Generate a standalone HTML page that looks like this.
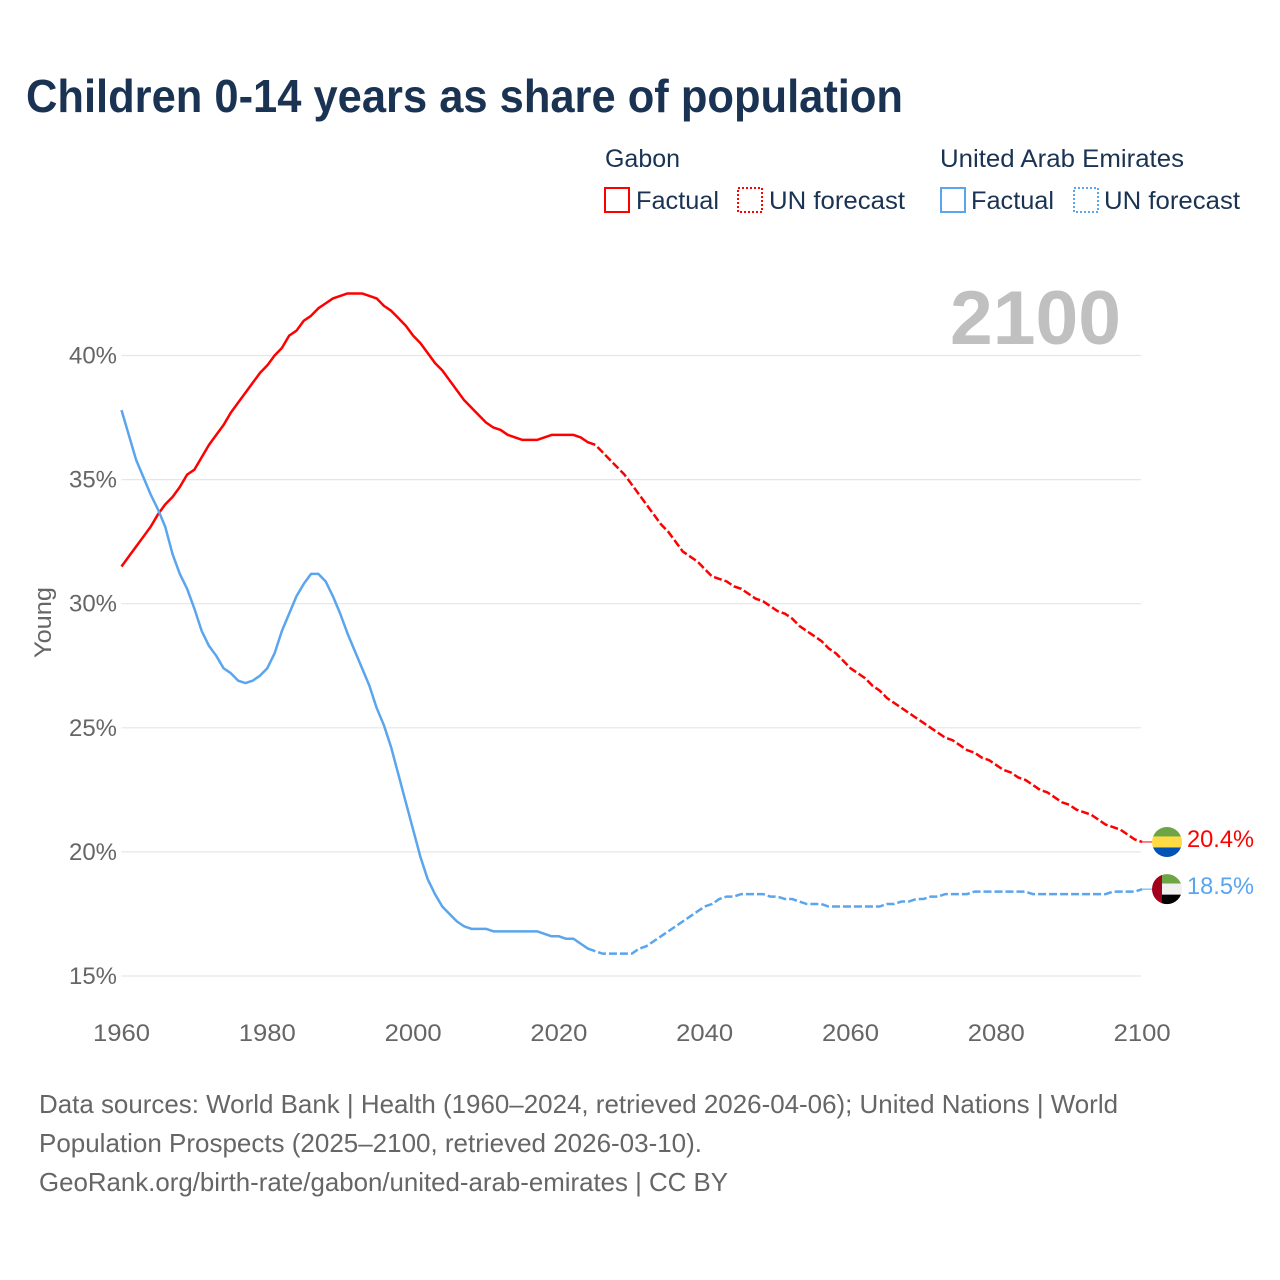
<!DOCTYPE html>
<html lang="en">
<head>
<meta charset="utf-8">
<title>Children 0-14 years as share of population</title>
<style>
html,body{margin:0;padding:0;background:#fff;}
svg{display:block;}
text{font-family:"Liberation Sans",sans-serif;}
</style>
</head>
<body>
<svg id="chart" xmlns="http://www.w3.org/2000/svg" width="1280" height="1280" viewBox="0 0 1280 1280">
  <rect x="0" y="0" width="1280" height="1280" fill="#fff"/>
  <text x="26" y="112" font-size="46" font-weight="700" fill="#1a3353" textLength="877" lengthAdjust="spacingAndGlyphs">Children 0-14 years as share of population</text>

  <g font-size="25" fill="#1a3353">
    <text x="605" y="167" textLength="75" lengthAdjust="spacingAndGlyphs">Gabon</text>
    <text x="940" y="167" textLength="244" lengthAdjust="spacingAndGlyphs">United Arab Emirates</text>
    <rect x="605" y="188" width="24" height="24" fill="none" stroke="#ff0000" stroke-width="2"/>
    <text x="636" y="209" textLength="83" lengthAdjust="spacingAndGlyphs">Factual</text>
    <rect x="738" y="188" width="24" height="24" fill="none" stroke="#ff0000" stroke-width="2" stroke-dasharray="2 2"/>
    <text x="769" y="209" textLength="136" lengthAdjust="spacingAndGlyphs">UN forecast</text>
    <rect x="941" y="188" width="24" height="24" fill="none" stroke="#5aa5ee" stroke-width="2"/>
    <text x="971" y="209" textLength="83" lengthAdjust="spacingAndGlyphs">Factual</text>
    <rect x="1074" y="188" width="24" height="24" fill="none" stroke="#5aa5ee" stroke-width="2" stroke-dasharray="2 2"/>
    <text x="1104" y="209" textLength="136" lengthAdjust="spacingAndGlyphs">UN forecast</text>
  </g>

  <g id="grid"></g>
  <text x="950" y="344" font-size="76" font-weight="700" fill="#c0c0c0" textLength="171" lengthAdjust="spacingAndGlyphs">2100</text>
  <g id="y-ticks"></g>
  <g id="x-ticks"></g>
  <text transform="translate(51,622.5) rotate(-90)" text-anchor="middle" font-size="24" fill="#666666" textLength="71" lengthAdjust="spacingAndGlyphs">Young</text>
  <g id="series"></g>

  <defs>
    <clipPath id="flag-clip-gabon"><circle id="clip-gabon" cx="1167" cy="841" r="15"/></clipPath>
    <clipPath id="flag-clip-uae"><circle id="clip-uae" cx="1167" cy="889" r="15"/></clipPath>
  </defs>
  <g id="flag-gabon">
    <g clip-path="url(#flag-clip-gabon)">
      <rect id="gabon-green" x="1152" width="30" height="10" fill="#6da544"/>
      <rect id="gabon-yellow" x="1152" width="30" height="11" fill="#ffda44"/>
      <rect id="gabon-blue" x="1152" width="30" height="10" fill="#0052b4"/>
    </g>
  </g>
  <g id="flag-uae">
    <g clip-path="url(#flag-clip-uae)">
      <rect id="uae-green" x="1161" width="21" height="10" fill="#6da544"/>
      <rect id="uae-white" x="1161" width="21" height="11" fill="#f0f0f0"/>
      <rect id="uae-black" x="1161" width="21" height="10" fill="#000000"/>
      <rect id="uae-red" x="1152" width="10" height="31" fill="#a2001d"/>
    </g>
  </g>
  <text id="end-label-gabon" x="1187" font-size="24" fill="#ff0000" textLength="67" lengthAdjust="spacingAndGlyphs"></text>
  <text id="end-label-uae" x="1187" font-size="24" fill="#5aa5ee" textLength="67" lengthAdjust="spacingAndGlyphs"></text>

  <g font-size="26" fill="#666666">
    <text x="39" y="1113" textLength="1079" lengthAdjust="spacingAndGlyphs">Data sources: World Bank | Health (1960–2024, retrieved 2026-04-06); United Nations | World</text>
    <text x="39" y="1152" textLength="663" lengthAdjust="spacingAndGlyphs">Population Prospects (2025–2100, retrieved 2026-03-10).</text>
    <text x="39" y="1191" textLength="689" lengthAdjust="spacingAndGlyphs">GeoRank.org/birth-rate/gabon/united-arab-emirates | CC BY</text>
  </g>
</svg>
<script>
const startYear = 1960;
const forecastStartYear = 2025;
const xTickYears = [1960, 1980, 2000, 2020, 2040, 2060, 2080, 2100];
const yTickValues = [15, 20, 25, 30, 35, 40];
const gabonValues = [
  31.5,31.9,32.3,32.7,33.1,33.6,34.0,34.3,34.7,35.2,
  35.4,35.9,36.4,36.8,37.2,37.7,38.1,38.5,38.9,39.3,
  39.6,40.0,40.3,40.8,41.0,41.4,41.6,41.9,42.1,42.3,
  42.4,42.5,42.5,42.5,42.4,42.3,42.0,41.8,41.5,41.2,
  40.8,40.5,40.1,39.7,39.4,39.0,38.6,38.2,37.9,37.6,
  37.3,37.1,37.0,36.8,36.7,36.6,36.6,36.6,36.7,36.8,
  36.8,36.8,36.8,36.7,36.5,36.4,36.1,35.8,35.5,35.2,
  34.8,34.4,34.0,33.6,33.2,32.9,32.5,32.1,31.9,31.7,
  31.4,31.1,31.0,30.9,30.7,30.6,30.4,30.2,30.1,29.9,
  29.7,29.6,29.4,29.1,28.9,28.7,28.5,28.2,28.0,27.7,
  27.4,27.2,27.0,26.7,26.5,26.2,26.0,25.8,25.6,25.4,
  25.2,25.0,24.8,24.6,24.5,24.3,24.1,24.0,23.8,23.7,
  23.5,23.3,23.2,23.0,22.9,22.7,22.5,22.4,22.2,22.0,
  21.9,21.7,21.6,21.5,21.3,21.1,21.0,20.9,20.7,20.5,
  20.4
];
const uaeValues = [
  37.8,36.8,35.8,35.1,34.4,33.8,33.1,32.0,31.2,30.6,
  29.8,28.9,28.3,27.9,27.4,27.2,26.9,26.8,26.9,27.1,
  27.4,28.0,28.9,29.6,30.3,30.8,31.2,31.2,30.9,30.3,
  29.6,28.8,28.1,27.4,26.7,25.8,25.1,24.2,23.1,22.0,
  20.9,19.8,18.9,18.3,17.8,17.5,17.2,17.0,16.9,16.9,
  16.9,16.8,16.8,16.8,16.8,16.8,16.8,16.8,16.7,16.6,
  16.6,16.5,16.5,16.3,16.1,16.0,15.9,15.9,15.9,15.9,
  15.9,16.1,16.2,16.4,16.6,16.8,17.0,17.2,17.4,17.6,
  17.8,17.9,18.1,18.2,18.2,18.3,18.3,18.3,18.3,18.2,
  18.2,18.1,18.1,18.0,17.9,17.9,17.9,17.8,17.8,17.8,
  17.8,17.8,17.8,17.8,17.8,17.9,17.9,18.0,18.0,18.1,
  18.1,18.2,18.2,18.3,18.3,18.3,18.3,18.4,18.4,18.4,
  18.4,18.4,18.4,18.4,18.4,18.3,18.3,18.3,18.3,18.3,
  18.3,18.3,18.3,18.3,18.3,18.3,18.4,18.4,18.4,18.4,
  18.5
];

const NS = 'http://www.w3.org/2000/svg';
function xScale(year) { return 121.5 + (year - 1960) * 7.29; }
function yScale(value) { return 976 - (value - 15) * 24.82; }
function pathFor(values, fromIndex, toIndex) {
  const parts = [];
  for (let i = fromIndex; i <= toIndex; i++) {
    parts.push((i === fromIndex ? 'M' : 'L') + xScale(startYear + i).toFixed(2) + ' ' + yScale(values[i]).toFixed(2));
  }
  return parts.join(' ');
}

const gridGroup = document.getElementById('grid');
const yTickGroup = document.getElementById('y-ticks');
const xTickGroup = document.getElementById('x-ticks');
const seriesGroup = document.getElementById('series');

yTickValues.forEach(function (v) {
  const line = document.createElementNS(NS, 'line');
  
  
  line.setAttribute('x1', xScale(1960));
  line.setAttribute('x2', 1141);
  line.setAttribute('y1', yScale(v));
  line.setAttribute('y2', yScale(v));
  line.setAttribute('stroke', '#e6e6e6');
  line.setAttribute('stroke-width', '1.2');
  gridGroup.appendChild(line);

  const label = document.createElementNS(NS, 'text');
  
  
  label.setAttribute('x', 117);
  label.setAttribute('y', yScale(v) + 8);
  label.setAttribute('text-anchor', 'end');
  label.setAttribute('font-size', '24');
  label.setAttribute('fill', '#666666');
  label.setAttribute('textLength', '48');
  label.setAttribute('lengthAdjust', 'spacingAndGlyphs');
  label.textContent = v + '%';
  yTickGroup.appendChild(label);
});

xTickYears.forEach(function (year) {
  const label = document.createElementNS(NS, 'text');
  
  
  label.setAttribute('x', xScale(year));
  label.setAttribute('y', 1041);
  label.setAttribute('text-anchor', 'middle');
  label.setAttribute('font-size', '24');
  label.setAttribute('fill', '#666666');
  label.setAttribute('textLength', '57');
  label.setAttribute('lengthAdjust', 'spacingAndGlyphs');
  label.textContent = String(year);
  xTickGroup.appendChild(label);
});

function drawSeries(key, values, color) {
  const splitIndex = forecastStartYear - startYear;
  const lastIndex = values.length - 1;

  const solid = document.createElementNS(NS, 'path');
  
  
  solid.setAttribute('d', pathFor(values, 0, splitIndex));
  solid.setAttribute('fill', 'none');
  solid.setAttribute('stroke', color);
  solid.setAttribute('stroke-width', '2.5');
  solid.setAttribute('stroke-linejoin', 'round');
  seriesGroup.appendChild(solid);

  const dashed = document.createElementNS(NS, 'path');
  
  
  dashed.setAttribute('d', pathFor(values, splitIndex, lastIndex));
  dashed.setAttribute('fill', 'none');
  dashed.setAttribute('stroke', color);
  dashed.setAttribute('stroke-width', '2.5');
  dashed.setAttribute('stroke-dasharray', '8 3');
  dashed.setAttribute('stroke-dashoffset', '8');
  seriesGroup.appendChild(dashed);

  const endY = yScale(values[lastIndex]);
  const connector = document.createElementNS(NS, 'line');
  
  
  connector.setAttribute('x1', xScale(startYear + lastIndex));
  connector.setAttribute('x2', 1153);
  connector.setAttribute('y1', endY);
  connector.setAttribute('y2', endY);
  connector.setAttribute('stroke', color);
  connector.setAttribute('stroke-width', '1');
  seriesGroup.appendChild(connector);
  return endY;
}

const gabonEndY = drawSeries('gabon', gabonValues, '#ff0000');
const uaeEndY = drawSeries('uae', uaeValues, '#5aa5ee');

function place(id, y) { document.getElementById(id).setAttribute('y', y); }
document.getElementById('clip-gabon').setAttribute('cy', gabonEndY);
place('gabon-green', gabonEndY - 15.5);
place('gabon-yellow', gabonEndY - 5.5);
place('gabon-blue', gabonEndY + 5.5);
document.getElementById('clip-uae').setAttribute('cy', uaeEndY);
place('uae-green', uaeEndY - 15.5);
place('uae-white', uaeEndY - 5.5);
place('uae-black', uaeEndY + 5.5);
place('uae-red', uaeEndY - 15.5);

const gabonEndLabel = document.getElementById('end-label-gabon');
gabonEndLabel.setAttribute('y', gabonEndY + 5);
gabonEndLabel.textContent = gabonValues[gabonValues.length - 1].toFixed(1) + '%';
const uaeEndLabel = document.getElementById('end-label-uae');
uaeEndLabel.setAttribute('y', uaeEndY + 5);
uaeEndLabel.textContent = uaeValues[uaeValues.length - 1].toFixed(1) + '%';
</script>
</body>
</html>
